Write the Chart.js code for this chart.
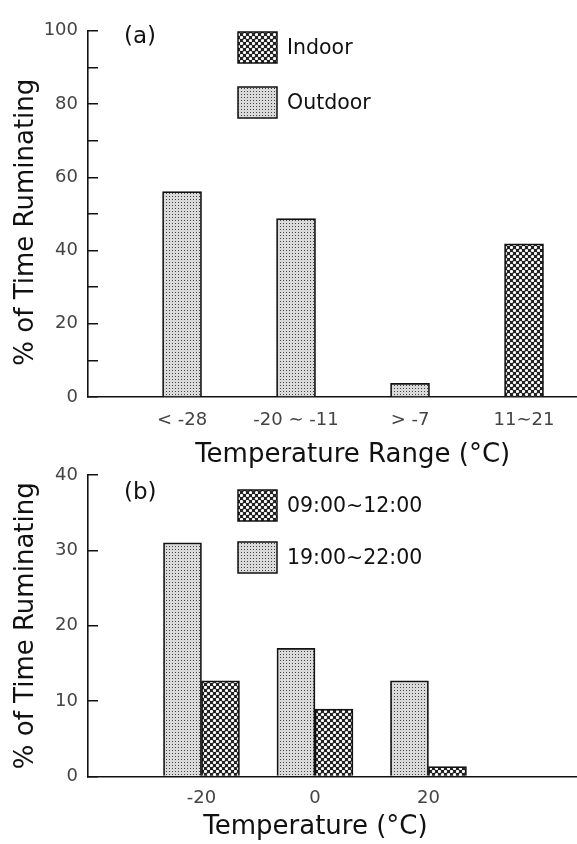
<!DOCTYPE html>
<html>
<head>
<meta charset="utf-8">
<script src="https://cdn.jsdelivr.net/npm/chart.js@4.4.1/dist/chart.umd.min.js"></script>
<style>
  html, body { margin: 0; padding: 0; background: #fff; }
  #page { position: relative; width: 577px; height: 844px; overflow: hidden; }
  .panel { position: absolute; left: 0; width: 577px; }
  #wrapA { top: 0; height: 480px; }
  #wrapB { top: 440px; height: 404px; }
</style>
</head>
<body>
<div id="page">
  <div class="panel" id="wrapA"><canvas id="chartA"></canvas></div>
  <div class="panel" id="wrapB"><canvas id="chartB"></canvas></div>
</div>
<script>
// panel (a): % of time ruminating by temperature range
const rangeLabels = ["< -28", "-20 ∼ -11", "> -7", "11∼21"];
const indoorPct = [null, null, null, 41.8];
const outdoorPct = [56.1, 48.7, 3.7, null];
const yMarksA = [0, 10, 20, 30, 40, 50, 60, 70, 80, 90, 100];
const yLabelsA = [0, 20, 40, 60, 80, 100];

// panel (b): by temperature, two times of day
const tempValues = [-20, 0, 20];
const eveningPct = [31.0, 17.0, 12.7];  // 19:00~22:00
const morningPct = [12.7, 8.95, 1.3];   // 09:00~12:00
const yMarksB = [0, 10, 20, 30, 40];

Chart.defaults.font.family = "'DejaVu Sans', sans-serif";
const INK = "#111";
const TICK_INK = "#444";

function crossPattern() {
    const c = document.createElement("canvas");
    c.width = 6;
    c.height = 6;
    const g = c.getContext("2d");
    g.fillStyle = "#222";
    g.fillRect(0, 0, 6, 6);
    g.fillStyle = "#fff";
    [[1.5, 1.5], [4.5, 4.5]].forEach(([cx, cy]) => {
        g.beginPath();
        g.arc(cx, cy, 1.6, 0, Math.PI * 2);
        g.fill();
    });
    return g.createPattern(c, "repeat");
}

function dotPattern() {
    const c = document.createElement("canvas");
    c.width = 3;
    c.height = 3;
    const g = c.getContext("2d");
    g.fillStyle = "#dadada";
    g.fillRect(0, 0, 3, 3);
    g.fillStyle = "#444";
    g.fillRect(1, 1, 1, 1);
    return g.createPattern(c, "repeat");
}

const crossFill = crossPattern();
const dotFill = dotPattern();

// draws the "(a)"/"(b)" tag and the boxed legend inside the plot
function panelDecor(cfg) {
    return {
        id: "panelDecor",
        afterDraw(chart) {
            const ctx = chart.ctx;
            ctx.save();
            ctx.textAlign = "left";
            ctx.textBaseline = "middle";
            ctx.fillStyle = INK;
            ctx.font = "23px 'DejaVu Sans'";
            ctx.fillText(cfg.tag, cfg.tagX, cfg.tagY);
            ctx.font = cfg.font;
            cfg.order.forEach((di, k) => {
                const ds = chart.data.datasets[di];
                const y = cfg.boxY + k * cfg.rowGap;
                ctx.fillStyle = ds.backgroundColor;
                ctx.fillRect(cfg.boxX, y, cfg.boxW, cfg.boxH);
                ctx.lineWidth = 1.5;
                ctx.strokeStyle = INK;
                ctx.strokeRect(cfg.boxX, y, cfg.boxW, cfg.boxH);
                ctx.fillStyle = INK;
                ctx.fillText(ds.label, cfg.boxX + cfg.boxW + 10, y + cfg.boxH / 2 + 1);
            });
            ctx.restore();
        },
    };
}

function yAxis(max, marks, labelFn, title) {
    return {
        min: 0,
        max: max,
        afterBuildTicks: (ax) => {
            ax.ticks = marks.map((v) => ({ value: v }));
        },
        afterFit: (s) => {
            s.width = 88;
        },
        ticks: {
            callback: labelFn,
            font: { size: 18 },
            color: TICK_INK,
            padding: 20,
            autoSkip: false,
        },
        grid: {
            drawOnChartArea: false,
            tickLength: -10,
            color: INK,
            lineWidth: 1.5,
        },
        border: { color: INK, width: 1.6 },
        title: {
            display: true,
            text: title,
            font: { size: 26 },
            color: INK,
            padding: { top: 11, bottom: 0 },
        },
    };
}

const barDefaults = {
    barThickness: 39,
    skipNull: true,
    borderWidth: 1.7,
    borderColor: INK,
    borderSkipped: "bottom",
};

new Chart(document.getElementById("chartA"), {
    type: "bar",
    data: {
        datasets: [
            {
                label: "Indoor",
                data: indoorPct.map((v, i) => ({ x: i, y: v })),
                backgroundColor: crossFill,
            },
            {
                label: "Outdoor",
                data: outdoorPct.map((v, i) => ({ x: i, y: v })),
                backgroundColor: dotFill,
            },
        ],
    },
    options: {
        responsive: true,
        maintainAspectRatio: false,
        animation: false,
        layout: { padding: { top: 19, right: 1, left: 0, bottom: 0 } },
        datasets: { bar: barDefaults },
        plugins: { legend: { display: false }, tooltip: { enabled: false } },
        scales: {
            x: {
                type: "linear",
                offset: false,
                min: -0.825,
                max: 3.456,
                afterBuildTicks: (ax) => {
                    ax.ticks = rangeLabels.map((_, i) => ({ value: i }));
                },
                afterFit: (s) => {
                    s.height = 83;
                },
                ticks: {
                    callback: (v) => rangeLabels[v],
                    font: { size: 18 },
                    color: TICK_INK,
                    padding: 13,
                    maxRotation: 0,
                    autoSkip: false,
                },
                grid: { display: false, drawTicks: false, offset: false },
                border: { color: INK, width: 1.6 },
                title: {
                    display: true,
                    text: "     Temperature Range (°C)",
                    font: { size: 26 },
                    color: INK,
                    padding: { top: 0, bottom: 9 },
                },
            },
            y: yAxis(100, yMarksA, (v) => (yLabelsA.includes(v) ? v : ""), "% of Time Ruminating  "),
        },
    },
    plugins: [
        panelDecor({
            tag: "(a)", tagX: 124, tagY: 37,
            font: "20.5px 'DejaVu Sans'",
            order: [0, 1],
            boxX: 238, boxY: 32, boxW: 39, boxH: 31, rowGap: 55,
        }),
    ],
});

new Chart(document.getElementById("chartB"), {
    type: "bar",
    data: {
        datasets: [
            {
                label: "19:00∼22:00",
                data: eveningPct.map((v, i) => ({ x: tempValues[i], y: v })),
                backgroundColor: dotFill,
            },
            {
                label: "09:00∼12:00",
                data: morningPct.map((v, i) => ({ x: tempValues[i], y: v })),
                backgroundColor: crossFill,
            },
        ],
    },
    options: {
        responsive: true,
        maintainAspectRatio: false,
        animation: false,
        layout: { padding: { top: 35, right: 1, left: 0, bottom: 0 } },
        datasets: { bar: Object.assign({}, barDefaults, { barThickness: 38 }) },
        plugins: { legend: { display: false }, tooltip: { enabled: false } },
        scales: {
            x: {
                type: "linear",
                offset: false,
                min: -40,
                max: 46,
                afterBuildTicks: (ax) => {
                    ax.ticks = tempValues.map((v) => ({ value: v }));
                },
                afterFit: (s) => {
                    s.height = 67.5;
                },
                ticks: {
                    font: { size: 18 },
                    color: TICK_INK,
                    padding: 10.7,
                    maxRotation: 0,
                    autoSkip: false,
                },
                grid: { display: false, drawTicks: false, offset: false },
                border: { color: INK, width: 1.6 },
                title: {
                    display: true,
                    text: "Temperature (°C)    ",
                    font: { size: 26 },
                    color: INK,
                    padding: { top: 0, bottom: 1 },
                },
            },
            y: yAxis(40, yMarksB, (v) => v, "% of Time Ruminating"),
        },
    },
    plugins: [
        panelDecor({
            tag: "(b)", tagX: 124, tagY: 53,
            font: "20.5px 'DejaVu Sans'",
            order: [1, 0],
            boxX: 238, boxY: 50, boxW: 39, boxH: 31, rowGap: 52,
        }),
    ],
});
</script>
</body>
</html>
